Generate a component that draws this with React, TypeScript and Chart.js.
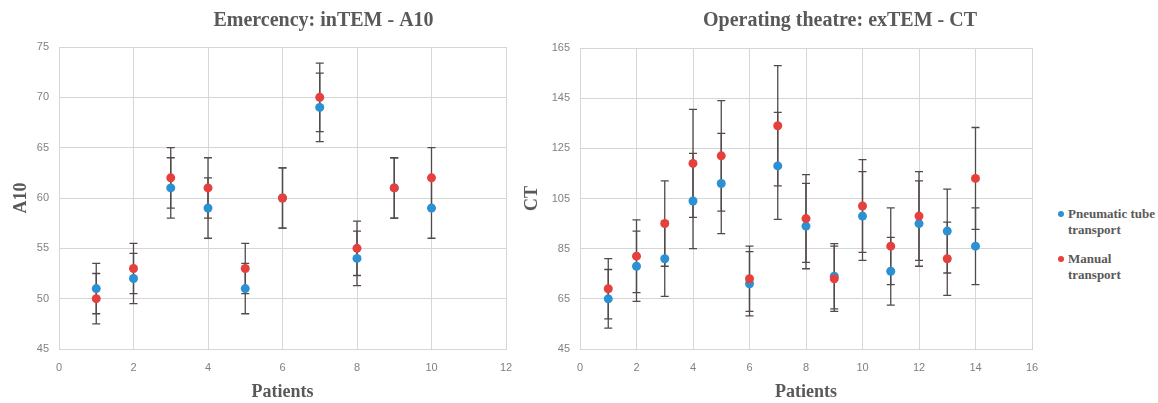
import React, { useEffect, useRef } from "react";
import { Chart, registerables } from "chart.js";

Chart.register(...registerables);

// ---- Data ----
const a10Patients = [1, 2, 3, 4, 5, 6, 7, 8, 9, 10];
const a10Pneumatic = [51, 52, 61, 59, 51, 60, 69, 54, 61, 59];
const a10PneumaticErr = [2.5, 2.5, 3, 3, 2.5, 3, 3.4, 2.7, 3, 3];
const a10Manual = [50, 53, 62, 61, 53, 60, 70, 55, 61, 62];
const a10ManualErr = [2.5, 2.5, 3, 3, 2.5, 3, 3.4, 2.7, 3, 3];

const ctPatients = [1, 2, 3, 4, 5, 6, 7, 8, 9, 10, 11, 12, 13, 14];
const ctPneumatic = [65, 78, 81, 104, 111, 71, 118, 94, 74, 98, 76, 95, 92, 86];
const ctPneumaticErr = [11.7, 14, 15, 19, 20, 12.8, 21.3, 17, 13, 17.7, 13.5, 17, 16.7, 15.3];
const ctManual = [69, 82, 95, 119, 122, 73, 134, 97, 73, 102, 86, 98, 81, 113];
const ctManualErr = [12, 14.5, 17, 21.5, 22, 13, 24, 17.5, 13, 18.5, 15.3, 17.7, 14.6, 20.3];

const seriesNames = ["Pneumatic tube transport", "Manual transport"];
const titles = ["Emercency: inTEM - A10", "Operating theatre: exTEM - CT"];
const yTitles = ["A10", "CT"];
const xTitle = "Patients";

const BLUE = "#2b91d2";
const RED = "#e6403c";
const TEXT = "#595959";
const GRID = "#d6d6d6";
const ERR = "#524a48";

const panelTitle = {
  id: "panelTitle",
  afterDraw(chart: any, _args: any, opts: any) {
    const { ctx, chartArea } = chart;
    ctx.save();
    ctx.font = 'bold 20px "Liberation Serif"';
    ctx.fillStyle = opts.color;
    ctx.textAlign = "center";
    ctx.textBaseline = "middle";
    ctx.fillText(opts.text, (chartArea.left + chartArea.right) / 2 + opts.shift, opts.y);
    ctx.restore();
  },
};

const errorBars = {
  id: "errorBars",
  beforeDatasetsDraw(chart: any) {
    const { ctx } = chart;
    const yScale = chart.scales.y;
    ctx.save();
    ctx.strokeStyle = ERR;
    ctx.lineWidth = 1.3;
    chart.data.datasets.forEach((ds: any, di: number) => {
      const meta = chart.getDatasetMeta(di);
      meta.data.forEach((pt: any, i: number) => {
        const v = ds.data[i].y;
        const e = ds.errors[i];
        const x = pt.x;
        const yTop = yScale.getPixelForValue(v + e);
        const yBot = yScale.getPixelForValue(v - e);
        ctx.beginPath();
        ctx.moveTo(x, yTop);
        ctx.lineTo(x, yBot);
        ctx.moveTo(x - 4, yTop);
        ctx.lineTo(x + 4, yTop);
        ctx.moveTo(x - 4, yBot);
        ctx.lineTo(x + 4, yBot);
        ctx.stroke();
      });
    });
    ctx.restore();
  },
};

function makeConfig(p: {
  xs: number[];
  blue: number[];
  blueErr: number[];
  red: number[];
  redErr: number[];
  title: string;
  titleShift: number;
  yTitle: string;
  yTitlePad: number;
  yWidth: number;
  padRight: number;
  padTop: number;
  xMax: number;
  yMin: number;
  yMax: number;
  yStep: number;
}): any {
  const tickFont = { family: '"Liberation Sans"', size: 11 };
  const axisTitleFont = { family: '"Liberation Serif"', size: 18, weight: "bold" as const };
  return {
    type: "scatter",
    data: {
      datasets: [
        {
          label: seriesNames[0],
          data: p.xs.map((x, i) => ({ x, y: p.blue[i] })),
          errors: p.blueErr,
          backgroundColor: BLUE,
          borderColor: BLUE,
          pointRadius: 4.5,
          pointBorderWidth: 0,
          order: 2,
        },
        {
          label: seriesNames[1],
          data: p.xs.map((x, i) => ({ x, y: p.red[i] })),
          errors: p.redErr,
          backgroundColor: RED,
          borderColor: RED,
          pointRadius: 4.5,
          pointBorderWidth: 0,
          order: 1,
        },
      ],
    },
    options: {
      animation: false,
      responsive: false,
      maintainAspectRatio: false,
      layout: { padding: { left: 0, right: p.padRight, top: p.padTop, bottom: 0 } },
      plugins: {
        legend: { display: false },
        tooltip: { enabled: false },
        panelTitle: { text: p.title, shift: p.titleShift, y: 21, color: TEXT },
      },
      scales: {
        x: {
          type: "linear",
          min: 0,
          max: p.xMax,
          ticks: { stepSize: 2, color: "#808080", font: tickFont, padding: 12 },
          grid: { color: GRID, drawTicks: false },
          border: { color: GRID },
          title: { display: true, text: xTitle, color: TEXT, font: axisTitleFont, padding: { top: 0, bottom: 0 } },
          afterFit(scale: any) {
            scale.height = 54;
            scale.paddingLeft = 0;
            scale.paddingRight = 0;
            scale.paddingTop = 0;
            scale.paddingBottom = 0;
          },
        },
        y: {
          type: "linear",
          min: p.yMin,
          max: p.yMax,
          ticks: { stepSize: p.yStep, color: "#808080", font: tickFont, padding: 10 },
          grid: { color: GRID, drawTicks: false },
          border: { color: GRID },
          title: { display: true, text: p.yTitle, color: TEXT, font: axisTitleFont, padding: { top: p.yTitlePad, bottom: 0 } },
          afterFit(scale: any) {
            scale.width = p.yWidth;
            scale.paddingLeft = 0;
            scale.paddingRight = 0;
            scale.paddingTop = 0;
            scale.paddingBottom = 0;
          },
        },
      },
    },
    plugins: [panelTitle, errorBars],
  };
}

export default function App() {
  const leftRef = useRef<HTMLCanvasElement>(null);
  const rightRef = useRef<HTMLCanvasElement>(null);

  useEffect(() => {
    const left = new Chart(
      leftRef.current as HTMLCanvasElement,
      makeConfig({
        xs: a10Patients,
        blue: a10Pneumatic,
        blueErr: a10PneumaticErr,
        red: a10Manual,
        redErr: a10ManualErr,
        title: titles[0],
        titleShift: 41,
        yTitle: yTitles[0],
        yTitlePad: 11,
        yWidth: 59,
        padRight: 9,
        padTop: 47,
        xMax: 12,
        yMin: 45,
        yMax: 75,
        yStep: 5,
      })
    );
    const right = new Chart(
      rightRef.current as HTMLCanvasElement,
      makeConfig({
        xs: ctPatients,
        blue: ctPneumatic,
        blueErr: ctPneumaticErr,
        red: ctManual,
        redErr: ctManualErr,
        title: titles[1],
        titleShift: 34,
        yTitle: yTitles[1],
        yTitlePad: 7,
        yWidth: 65,
        padRight: 18,
        padTop: 48,
        xMax: 16,
        yMin: 45,
        yMax: 165,
        yStep: 20,
      })
    );
    return () => {
      left.destroy();
      right.destroy();
    };
  }, []);

  const legendText: React.CSSProperties = {
    position: "absolute",
    left: 1068,
    font: 'bold 13px "Liberation Serif"',
    lineHeight: "16px",
    color: TEXT,
    whiteSpace: "nowrap",
  };
  const dot = (color: string, top: number): React.CSSProperties => ({
    position: "absolute",
    left: 1058,
    top,
    width: 6,
    height: 6,
    borderRadius: "50%",
    background: color,
  });

  return (
    <div style={{ position: "absolute", left: 0, top: 0, width: 1158, height: 403, background: "#fff", overflow: "hidden" }}>
      <canvas ref={leftRef} width={515} height={403} style={{ position: "absolute", left: 0, top: 0, width: 515, height: 403 }} />
      <canvas ref={rightRef} width={535} height={403} style={{ position: "absolute", left: 515, top: 0, width: 535, height: 403 }} />
      <div style={dot(BLUE, 211)} />
      <div style={{ ...legendText, top: 206 }}>
        Pneumatic tube
        <br />
        transport
      </div>
      <div style={dot(RED, 256)} />
      <div style={{ ...legendText, top: 251 }}>
        Manual
        <br />
        transport
      </div>
    </div>
  );
}
